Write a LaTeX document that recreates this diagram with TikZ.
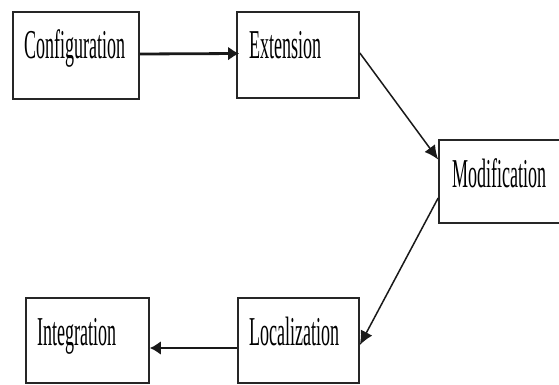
\documentclass[tikz,border=0pt]{standalone}
\usepackage{fontspec}
\setmainfont{Liberation Serif}
\usetikzlibrary{arrows.meta}
\newcommand{\narrowtext}[1]{\scalebox{0.44}[1]{\fontsize{41}{41}\selectfont #1}}
\begin{document}
\begin{tikzpicture}[x=1pt,y=-1pt,
  box/.style={draw=black!85, line width=1.7pt, inner sep=0pt},
  lbl/.style={anchor=base west, inner sep=0pt},
  conn/.style={draw=black!90, -{Latex[length=14pt,width=13pt]}, line width=1.5pt},
  heavy/.style={conn, line width=2.8pt, -{Latex[length=11pt,width=14pt]}}]
\clip (0,0) rectangle (559,385);
\fill[white] (0,0) rectangle (559,385);
% boxes
\node[box, minimum width=126pt, minimum height=87pt] (cfg) at (76,55.5) {};
\node[box, minimum width=122pt, minimum height=86pt] (ext) at (298,55) {};
\node[box, minimum width=140pt, minimum height=83pt] (mod) at (509,181.5) {};
\node[box, minimum width=123pt, minimum height=85pt] (int) at (87.5,340.5) {};
\node[box, minimum width=121pt, minimum height=85pt] (loc) at (298.5,340.5) {};
% labels
\node[lbl] (tcfg) at (24,59) {\narrowtext{Configuration}};
\node[lbl] (text) at (249,59) {\narrowtext{Extension}};
\node[lbl] (tmod) at (452,187) {\narrowtext{Modification}};
\node[lbl] (tint) at (37,345) {\narrowtext{Integration}};
\node[lbl] (tloc) at (249,345) {\narrowtext{Localization}};
% connectors
\draw[heavy] ([yshift=1.5pt]cfg.east) -- ([xshift=3pt,yshift=1.5pt]ext.west);
\draw[conn] ([yshift=2pt]ext.east) -- ([yshift=22pt]mod.west);
\draw[conn] ([yshift=-16.5pt]mod.west) -- ([yshift=-4.5pt]loc.east);
\draw[heavy] ([yshift=-7.5pt]loc.west) -- ([yshift=-7.5pt]int.east);
\end{tikzpicture}
\end{document}
